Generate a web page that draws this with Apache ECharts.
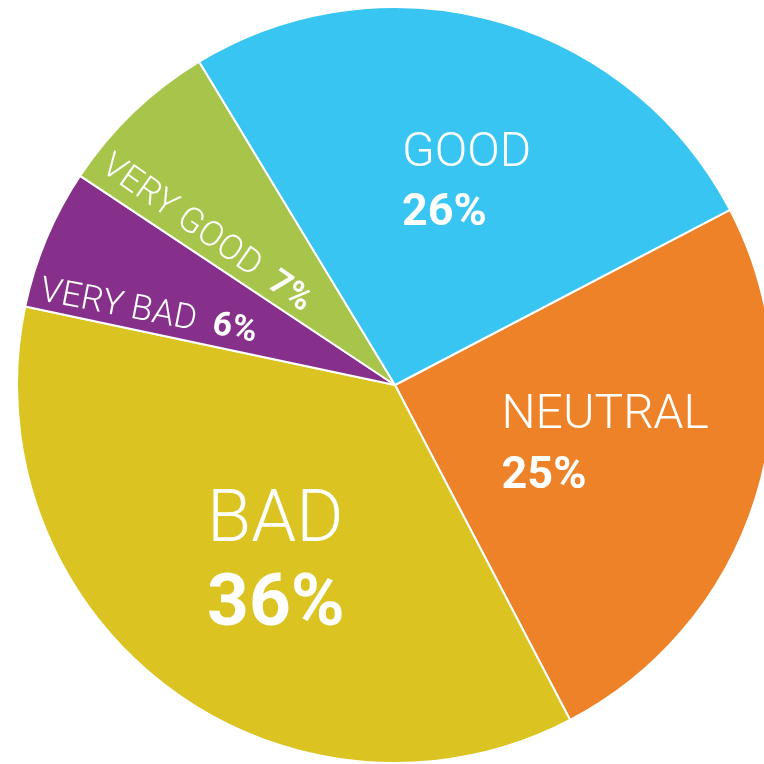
<!DOCTYPE html>
<html>
<head>
<meta charset="utf-8">
<script src="https://cdn.jsdelivr.net/npm/echarts@6/dist/echarts.min.js"></script>
<style>
  html, body { margin: 0; padding: 0; background: #fff; }
  #pie-chart { width: 764px; height: 764px; }
</style>
</head>
<body>
<div id="pie-chart"></div>
<script>
// data, clockwise from the GOOD / NEUTRAL border
const categories = ['NEUTRAL', 'BAD', 'VERY BAD', 'VERY GOOD', 'GOOD'];
const shares = [25, 36, 6, 7, 26];
const colors = ['#EE8229', '#DBC422', '#86308B', '#A8C54B', '#38C5F1'];

// label look per slice (offset from the default inside spot, rotation, sizes)
const labelLook = {
  'NEUTRAL':   { dx: 27, dy: 4, rotate: 0, big: false },
  'BAD':       { dx: -3, dy: 27, rotate: 0, big: true },
  'VERY BAD':  { dx: -68, dy: 15, rotate: -11, small: true },
  'VERY GOOD': { dx: -53, dy: 22, rotate: -35, small: true },
  'GOOD':      { dx: 20, dy: -16, rotate: 0, big: false },
};

const myChart = echarts.init(document.getElementById('pie-chart'));

const pieData = categories.map((name, i) => {
  const look = labelLook[name];
  return {
    name: name,
    value: shares[i],
    itemStyle: { color: colors[i] },
    label: {
      rotate: look.rotate,
      formatter: look.small ? '{n|{b}}{v|  {c}%}' : (look.big ? '{N|{b}}\n{V|{c}%}' : '{m|{b}}\n{w|{c}%}'),
    },
  };
});

const options = {
  animation: false,
  series: [
    {
      type: 'pie',
      center: [395, 385],
      radius: 378,
      startAngle: 27.6,
      clockwise: true,
      avoidLabelOverlap: false,
      itemStyle: {
        borderColor: '#ffffff',
        borderWidth: 2,
      },
      label: {
        show: true,
        position: 'inside',
        color: '#ffffff',
        fontFamily: 'Roboto',
        rich: {
          m: { fontSize: 48, fontWeight: 300, color: '#fff', lineHeight: 60, align: 'left', fontFamily: 'Roboto' },
          w: { fontSize: 45, fontWeight: 'bold', color: '#fff', lineHeight: 60, align: 'left', fontFamily: 'Roboto' },
          N: { fontSize: 72, fontWeight: 300, color: '#fff', lineHeight: 84, align: 'left', fontFamily: 'Roboto' },
          V: { fontSize: 73, fontWeight: 'bold', color: '#fff', lineHeight: 84, align: 'left', fontFamily: 'Roboto' },
          n: { fontSize: 35, fontWeight: 300, color: '#fff', fontFamily: 'Roboto' },
          v: { fontSize: 34, fontWeight: 'bold', color: '#fff', fontFamily: 'Roboto' },
        },
      },
      labelLine: { show: false },
      emphasis: { disabled: true },
      labelLayout: function (params) {
        const look = labelLook[categories[params.dataIndex]];
        return { dx: look.dx, dy: look.dy };
      },
      data: pieData,
    },
  ],
};
myChart.setOption(options);
</script>
</body>
</html>
